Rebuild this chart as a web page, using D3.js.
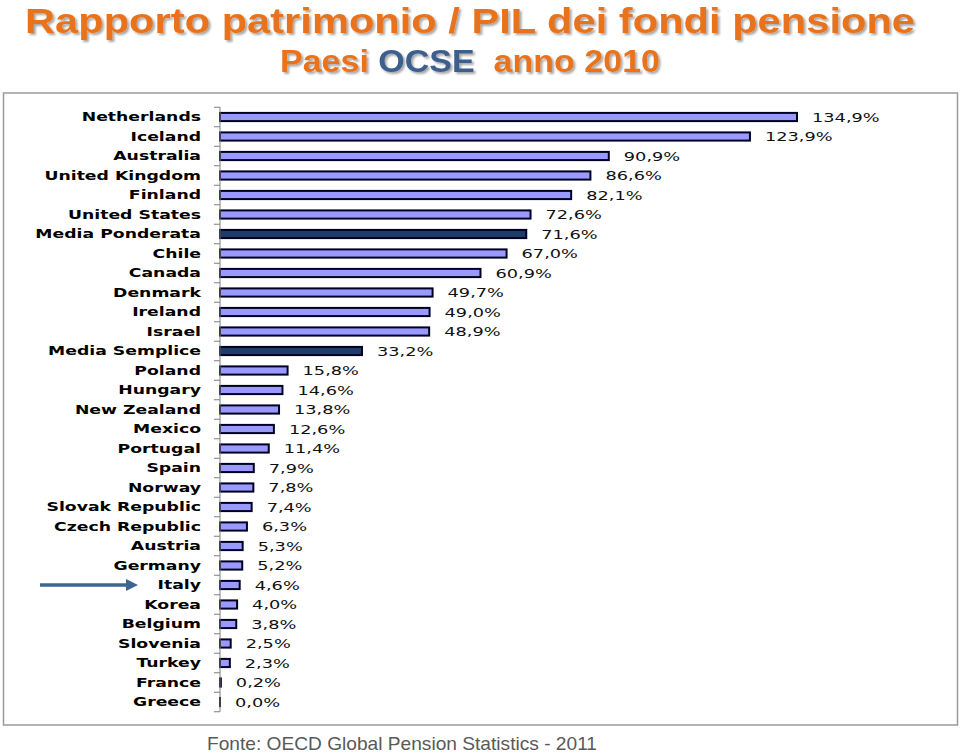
<!DOCTYPE html>
<html><head><meta charset="utf-8">
<script src="https://cdn.jsdelivr.net/npm/d3@7"></script>
<style>body{margin:0;background:#fff}svg{display:block}</style>
</head><body>
<script>
const categories = ["Netherlands","Iceland","Australia","United Kingdom","Finland","United States","Media Ponderata","Chile","Canada","Denmark","Ireland","Israel","Media Semplice","Poland","Hungary","New Zealand","Mexico","Portugal","Spain","Norway","Slovak Republic","Czech Republic","Austria","Germany","Italy","Korea","Belgium","Slovenia","Turkey","France","Greece"];
const values = [134.9,123.9,90.9,86.6,82.1,72.6,71.6,67.0,60.9,49.7,49.0,48.9,33.2,15.8,14.6,13.8,12.6,11.4,7.9,7.8,7.4,6.3,5.3,5.2,4.6,4.0,3.8,2.5,2.3,0.2,0.0];
const averages = ["Media Ponderata","Media Semplice"];
const highlighted = "Italy";
const titleText = "Rapporto patrimonio / PIL dei fondi pensione";
const sourceText = "Fonte: OECD Global Pension Statistics - 2011";

const W = 960, H = 753;
const svg = d3.select("body").append("svg").attr("width", W).attr("height", H);
const defs = svg.append("defs");
const f = defs.append("filter").attr("id","sh").attr("x","-5%").attr("y","-20%").attr("width","110%").attr("height","150%");
f.append("feDropShadow").attr("dx",2).attr("dy",2).attr("stdDeviation",1.2).attr("flood-color","#000").attr("flood-opacity",0.35);

// Title
svg.append("text").attr("x", 470).attr("y", 33).attr("text-anchor","middle")
  .attr("font-family","'Liberation Sans Narrow','Arial Narrow','Liberation Sans',sans-serif")
  .attr("font-weight","bold").attr("font-size",35).attr("fill","#E8731C")
  .attr("textLength", 890).attr("lengthAdjust","spacingAndGlyphs")
  .attr("filter","url(#sh)").text(titleText);
const sub = svg.append("text").attr("x", 470).attr("y", 72).attr("text-anchor","middle")
  .attr("font-family","'Liberation Sans Narrow','Arial Narrow','Liberation Sans',sans-serif")
  .attr("font-weight","bold").attr("font-size",32).attr("fill","#E8731C")
  .attr("textLength", 380).attr("lengthAdjust","spacingAndGlyphs")
  .attr("filter","url(#sh)").attr("xml:space","preserve");
sub.append("tspan").text("Paesi ");
sub.append("tspan").attr("fill","#3C5F8E").text("OCSE");
sub.append("tspan").text("  anno 2010");

// Frame
svg.append("rect").attr("x",3.5).attr("y",93).attr("width",954).attr("height",632)
  .attr("fill","none").attr("stroke","#9a9a9a").attr("stroke-width",1.5);

const x = d3.scaleLinear().domain([0, d3.max(values)]).range([220, 797]);
const y = d3.scaleBand().domain(categories).range([107.25, 711.75]).paddingInner(0.58).paddingOuter(0.29);
const data = categories.map((c,i)=>({c, v: values[i]}));
const fmt = v => d3.format(".1f")(v).replace(".", ",") + "%";

// Bars
svg.append("g").selectAll("rect").data(data).join("rect")
  .attr("x", x(0)).attr("y", d => y(d.c)).attr("width", d => Math.max(0.01, x(d.v) - x(0)))
  .attr("height", y.bandwidth())
  .attr("fill", d => averages.includes(d.c) ? "#1F3C68" : "#9999FF")
  .attr("stroke", "#000022").attr("stroke-width", 2);

// Axis with labels
const ax = svg.append("g").attr("transform", `translate(${x(0)},0)`)
  .call(d3.axisLeft(y).tickSize(0).tickPadding(19));
ax.select(".domain").remove();
ax.selectAll("text").attr("font-family","'DejaVu Sans',Verdana,sans-serif").attr("font-weight","bold")
  .attr("font-size",12.5).attr("fill","#000")
  .each(function(){ const l = this.getComputedTextLength(); d3.select(this).attr("textLength", l*1.38).attr("lengthAdjust","spacingAndGlyphs"); });
// axis line and boundary ticks
const step = y.step();
const y0 = y.range()[0];
svg.append("line").attr("x1",x(0)).attr("x2",x(0)).attr("y1",y0).attr("y2",y.range()[1])
  .attr("stroke","#7f7f7f").attr("stroke-width",1);
svg.append("g").selectAll("line").data(d3.range(categories.length+1)).join("line")
  .attr("x1", x(0)-6).attr("x2", x(0)).attr("y1", i => y0 + i*step).attr("y2", i => y0 + i*step)
  .attr("stroke","#7f7f7f").attr("stroke-width",1);

// Value labels
svg.append("g").selectAll("text").data(data).join("text")
  .attr("x", d => x(d.v) + 15).attr("y", d => y(d.c) + y.bandwidth()/2).attr("dy","0.36em")
  .attr("font-family","'DejaVu Sans',Verdana,sans-serif").attr("font-size",12.5).attr("fill","#111")
  .text(d => fmt(d.v))
  .each(function(){ const l = this.getComputedTextLength(); d3.select(this).attr("textLength", l*1.42).attr("lengthAdjust","spacingAndGlyphs"); });

// Arrow for highlighted
const ya = y(highlighted) + y.bandwidth()/2;
svg.append("line").attr("x1",40).attr("x2",128).attr("y1",ya).attr("y2",ya)
  .attr("stroke","#3C6595").attr("stroke-width",3.5);
svg.append("path").attr("d",`M126,${ya-6} L138,${ya} L126,${ya+6} Z`).attr("fill","#3C6595");

// Source
svg.append("text").attr("x", 207).attr("y", 750).attr("text-anchor","start")
  .attr("font-family","'Liberation Sans',Arial,sans-serif").attr("font-size",19).attr("fill","#595959")
  .attr("textLength", 390).attr("lengthAdjust","spacingAndGlyphs")
  .text(sourceText);
</script>
</body></html>
